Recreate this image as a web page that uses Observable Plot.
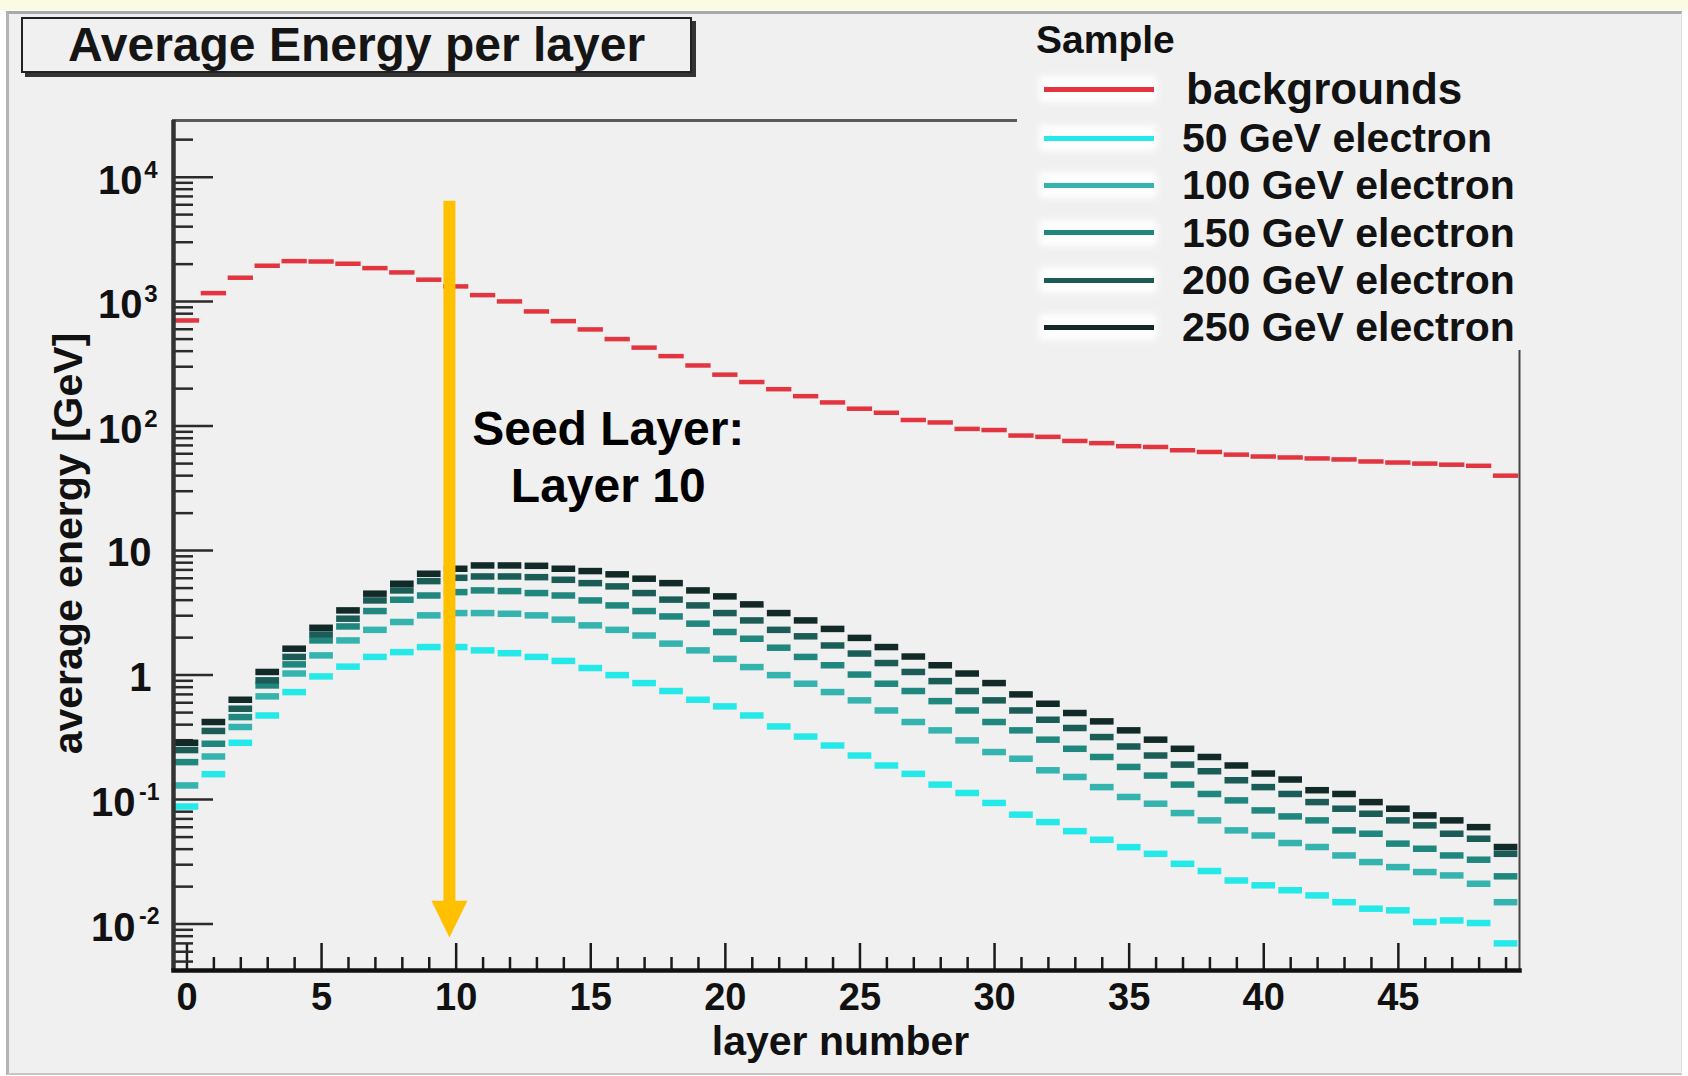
<!DOCTYPE html>
<html>
<head>
<meta charset="utf-8">
<script src="https://cdn.jsdelivr.net/npm/d3@7"></script>
<script src="https://cdn.jsdelivr.net/npm/@observablehq/plot@0.6"></script>
<style>
html, body { margin: 0; padding: 0; background: #ffffff; overflow: hidden; }
#page { position: relative; width: 1688px; height: 1076px; overflow: hidden;
  font-family: "Liberation Sans", Arial, Helvetica, sans-serif; font-weight: bold; color: #111; }
#strip { position: absolute; left: 0; top: 0; width: 1688px; height: 10px; background: #fbfbe3; }
#canvas { position: absolute; left: 6px; top: 11px; width: 1672px; height: 1059px; background: #f0f0f0;
  border-top: 3px solid #a9a9a9; border-left: 3px solid #b4b4b4; border-bottom: 2px solid #c6c6c6; border-right: 1px solid #dedede; }
#chart { position: absolute; left: 0; top: 0; }
#title { position: absolute; left: 21px; top: 17px; width: 667px; height: 52px; border: 2px solid #222;
  box-shadow: 4px 4px 0 #333; background: #f0f0f0; text-align: center; line-height: 52px; font-size: 48px; color: #151515; }
#legend { position: absolute; left: 1017px; top: 15px; width: 661px; height: 335px; background: #f0f0f0; }
.lg { position: absolute; white-space: nowrap; }
.halo { position: absolute; background: #ffffff; filter: blur(3px); opacity: 0.95; border-radius: 4px; }
.swatch { position: absolute; height: 5px; }
</style>
</head>
<body>
<div id="page">
  <div id="strip"></div>
  <div id="canvas"></div>
  <div id="chart"></div>
  <div id="title">Average Energy per layer</div>
  <div id="legend"></div>
</div>
<script>
// ---------------- data ----------------
const layers = [0,1,2,3,4,5,6,7,8,9,10,11,12,13,14,15,16,17,18,19,20,21,22,23,24,25,26,27,28,29,30,31,32,33,34,35,36,37,38,39,40,41,42,43,44,45,46,47,48,49];

const backgrounds = [706,1170,1556,1942,2115,2100,2015,1858,1716,1500,1325,1128,1004,834,697,598,500,427,365,307,259,226,198,174,155,138,128,112,107,95,93,84,82,76,73,69,68,64,62,59,57,56,55,54,52,51,50,49,48,40];

const e50 = [0.088,0.16,0.286,0.474,0.73,0.976,1.17,1.40,1.53,1.68,1.68,1.58,1.50,1.40,1.30,1.14,1.0,0.863,0.745,0.634,0.561,0.474,0.387,0.321,0.272,0.226,0.188,0.161,0.132,0.113,0.094,0.0757,0.066,0.0558,0.0476,0.0415,0.0367,0.0305,0.0267,0.0224,0.0205,0.0187,0.0170,0.0150,0.0133,0.0129,0.0104,0.0107,0.0102,0.0070];

const e100 = [0.13,0.222,0.383,0.675,1.03,1.44,1.90,2.31,2.67,3.02,3.15,3.15,3.11,3.02,2.79,2.51,2.31,2.08,1.79,1.58,1.35,1.16,1.0,0.853,0.731,0.627,0.520,0.420,0.360,0.299,0.241,0.213,0.172,0.152,0.126,0.105,0.0927,0.0780,0.0681,0.0566,0.0515,0.0448,0.0416,0.0356,0.0315,0.0287,0.0262,0.0246,0.0211,0.0150];

const e150 = [0.20,0.281,0.460,0.826,1.22,1.90,2.46,3.27,4.03,4.36,4.64,4.79,4.73,4.56,4.36,3.98,3.63,3.27,2.96,2.59,2.22,1.96,1.66,1.40,1.20,1.01,0.853,0.745,0.618,0.520,0.420,0.360,0.303,0.256,0.220,0.183,0.156,0.132,0.111,0.0986,0.0819,0.0733,0.0681,0.0566,0.0532,0.0443,0.0403,0.0356,0.0329,0.0242];

const e200 = [0.25,0.356,0.537,0.908,1.40,2.12,2.84,3.98,4.79,5.69,6.05,6.20,6.20,6.12,5.83,5.48,5.16,4.56,4.04,3.63,3.15,2.75,2.31,2.05,1.73,1.49,1.25,1.06,0.895,0.745,0.627,0.520,0.438,0.376,0.318,0.267,0.226,0.191,0.169,0.143,0.126,0.111,0.0955,0.0845,0.0770,0.0681,0.0621,0.0532,0.0485,0.0367];

const e250 = [0.286,0.420,0.634,1.06,1.63,2.40,3.31,4.51,5.42,6.52,7.15,7.60,7.60,7.55,7.15,6.85,6.45,5.95,5.48,4.79,4.29,3.70,3.15,2.75,2.35,1.99,1.68,1.41,1.20,1.03,0.863,0.700,0.589,0.496,0.425,0.360,0.303,0.256,0.220,0.188,0.162,0.145,0.119,0.111,0.0955,0.0845,0.0747,0.0681,0.0601,0.0416];

const seriesNames  = ["backgrounds","50 GeV electron","100 GeV electron","150 GeV electron","200 GeV electron","250 GeV electron"];
const seriesColors = ["#e2353f","#25e9e9","#35b3ae","#20877f","#1b5c57","#112927"];
const seriesValues = [backgrounds, e50, e100, e150, e200, e250];

const xTickMajor = [0,5,10,15,20,25,30,35,40,45];
const xTickLabels = ["0","5","10","15","20","25","30","35","40","45"];
const yTickMajor = [0.01,0.1,1,10,100,1000,10000];
const yTickBase  = ["10","10","1","10","10","10","10"];
const yTickExp   = ["-2","-1","","","2","3","4"];

const xTitle = "layer number";
const yTitle = "average energy [GeV]";
const seedNote = "Seed Layer:\nLayer 10";
// annotation (arrow + note) anchors in data units
const seedArrowX = [9.75];
const seedArrowTop = [6400];
const seedArrowBase = [0.0150];
const seedArrowTip = [0.0078];
const seedNoteX = [15.65];
const seedNoteY = [58];

// ---------------- tables ----------------
const bgRows = layers.map((l, k) => ({layer: l, value: backgrounds[k]}));
const elecRows = [];
for (let s = 1; s < seriesNames.length; s++) {
  layers.forEach((l, k) => elecRows.push({layer: l, value: seriesValues[s][k], series: seriesNames[s]}));
}
const xMinor = layers.filter(l => !xTickMajor.includes(l));
const yMinor = [];
for (let e = -3; e <= 4; e++) for (let m = 2; m <= 9; m++) {
  const v = m * Math.pow(10, e);
  if (v > 0.00424 && v < 28500) yMinor.push(v);
}
const yLab = yTickMajor.map((v, i) => ({v, base: yTickBase[i], exp: yTickExp[i]}));
const yPlain = yLab.filter(d => d.exp === "");
const yPowPos = yLab.filter(d => d.exp !== "" && !d.exp.startsWith("-"));
const yPowNeg = yLab.filter(d => d.exp.startsWith("-"));
const arrow = [{x: seedArrowX[0], top: seedArrowTop[0], base: seedArrowBase[0], tip: seedArrowTip[0]}];
const note = [{x: seedNoteX[0], y: seedNoteY[0], text: seedNote}];

const headSymbol = {
  draw(ctx, size) {
    const r = Math.sqrt(size / Math.PI);
    ctx.moveTo(0, 0);
    ctx.lineTo(-r, -2.05 * r);
    ctx.lineTo(r, -2.05 * r);
    ctx.closePath();
  }
};

const FW = 1519 - 173; // frame width in px
const FH = 970 - 120;  // frame height in px
const font = "'Liberation Sans', Arial, Helvetica, sans-serif";
const lab = {fontWeight: "bold", fill: "#111", lineAnchor: "middle"};

const chart = Plot.plot({
  width: 1688,
  height: 1076,
  marginLeft: 173,
  marginRight: 169,
  marginTop: 120,
  marginBottom: 106,
  x: {domain: [-0.5, 49.5], axis: null},
  y: {type: "log", domain: [0.00424, 28500], axis: null},
  color: {domain: seriesNames, range: seriesColors},
  style: {background: "transparent", fontFamily: font, overflow: "visible"},
  marks: [
    // frame
    Plot.frame({anchor: "top", stroke: "#5a5a5a", strokeWidth: 3}),
    Plot.frame({anchor: "right", stroke: "#444", strokeWidth: 2}),
    // ticks
    Plot.tickX(xMinor, {x: d => d, insetTop: FH - 13, stroke: "#1a1a1a", strokeWidth: 2.5}),
    Plot.tickX(xTickMajor, {x: d => d, insetTop: FH - 27, stroke: "#1a1a1a", strokeWidth: 2.5}),
    Plot.tickY(yMinor, {y: d => d, insetRight: FW - 20, stroke: "#2a2a2a", strokeWidth: 2.5}),
    Plot.tickY(yTickMajor, {y: d => d, insetRight: FW - 40, stroke: "#2a2a2a", strokeWidth: 2.5}),
    // data
    Plot.ruleY(elecRows, {y: "value", x1: d => d.layer - 0.44, x2: d => d.layer + 0.44, stroke: "series", strokeWidth: 6.5}),
    Plot.ruleY(bgRows, {y: "value", x1: d => d.layer - 0.47, x2: d => d.layer + 0.47, stroke: seriesColors[0], strokeWidth: 4.5}),
    // axis lines
    Plot.ruleX([-0.5], {x: d => d, stroke: "#333", strokeWidth: 4.5}),
    Plot.frame({anchor: "bottom", stroke: "#111", strokeWidth: 4.5}),
    // tick labels
    Plot.text(xTickMajor, {x: d => d, text: (d, i) => xTickLabels[i], frameAnchor: "bottom", dy: 27, fontSize: 38, ...lab}),
    Plot.text(yPlain, {y: "v", text: "base", frameAnchor: "left", textAnchor: "end", dx: -22, dy: 3, fontSize: 40, ...lab}),
    Plot.text(yPowPos, {y: "v", text: "base", frameAnchor: "left", textAnchor: "end", dx: -31, dy: 4, fontSize: 40, ...lab}),
    Plot.text(yPowPos, {y: "v", text: "exp", frameAnchor: "left", textAnchor: "end", dx: -16, dy: -7, fontSize: 24, ...lab}),
    Plot.text(yPowNeg, {y: "v", text: "base", frameAnchor: "left", textAnchor: "end", dx: -38, dy: 4, fontSize: 40, ...lab}),
    Plot.text(yPowNeg, {y: "v", text: "exp", frameAnchor: "left", textAnchor: "end", dx: -14, dy: -7, fontSize: 23, ...lab}),
    // axis titles
    Plot.text([xTitle], {text: d => d, frameAnchor: "bottom", dx: -6, dy: 71, fontSize: 41, ...lab}),
    Plot.text([yTitle], {text: d => d, frameAnchor: "left", textAnchor: "middle", dx: -105, dy: -2, rotate: -90,
      fontSize: 41, ...lab}),
    // seed layer annotation
    Plot.ruleX(arrow, {x: "x", y1: "top", y2: "base", stroke: "#ffc000", strokeWidth: 12}),
    Plot.dot(arrow, {x: "x", y: "tip", symbol: headSymbol, r: 18, fill: "#ffc000", stroke: "none"}),
    Plot.text(note, {x: "x", y: "y", text: "text", lineHeight: 1.19, lineAnchor: "middle",
      fontSize: 48, fontWeight: "bold", fill: "#000"})
  ]
});
document.getElementById("chart").appendChild(chart);

// ---------------- legend ----------------
const legend = document.getElementById("legend");
const entryY = [89, 138, 185, 232.5, 280, 327];
function addAbs(cls, css, text) {
  const el = document.createElement("div");
  el.className = cls;
  Object.assign(el.style, css);
  if (text !== undefined) el.textContent = text;
  legend.appendChild(el);
  return el;
}
const L0 = 1017, T0 = 15;
addAbs("lg", {left: (1036 - L0) + "px", top: (40 - T0 - 21) + "px", fontSize: "39px", lineHeight: "42px"}, "Sample");
seriesNames.forEach((name, i) => {
  const cy = entryY[i] - T0;
  addAbs("halo", {left: (1039 - L0) + "px", top: (cy - 13) + "px", width: "118px", height: "26px"});
  addAbs("swatch", {left: (1044 - L0) + "px", top: (cy - 2.5) + "px", width: "110px", background: seriesColors[i]});
  const big = i === 0;
  addAbs("lg", {left: ((big ? 1186 : 1182) - L0) + "px", top: (cy - 24) + "px", fontSize: big ? "44px" : "41px",
    lineHeight: "48px", color: "#121212"}, name);
});
</script>
</body>
</html>
